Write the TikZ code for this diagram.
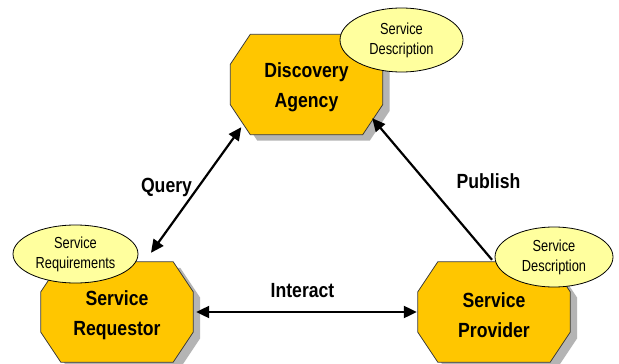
\documentclass[tikz,border=0pt]{standalone}
\usepackage{fontspec}
\setmainfont{Liberation Sans}
\newfontfamily\labfont[FakeStretch=0.86]{Liberation Sans Bold}
\newfontfamily\notefont[FakeStretch=0.8]{Liberation Sans}
\usetikzlibrary{arrows.meta,shapes.geometric,calc,backgrounds}

\definecolor{agentfill}{HTML}{FFC600}
\definecolor{agentline}{HTML}{3A3A3A}
\definecolor{notefill}{HTML}{FFFF9E}
\definecolor{shadowgray}{HTML}{B4B4B4}

\tikzset{
  agent/.style={draw=none, minimum width=152pt, minimum height=100pt,
    inner sep=0pt},
  agenttext/.style={inner sep=0pt, align=center, yshift=-3pt,
    font=\labfont\fontsize{20.5}{30}\selectfont},
  note/.style={ellipse, draw=black, line width=0.8pt, fill=notefill,
    inner sep=0pt, align=center,
    font=\notefont\fontsize{16}{20}\selectfont},
  edgelabel/.style={anchor=base, inner sep=0pt,
    font=\labfont\fontsize{20.5}{24}\selectfont},
  link/.style={line width=2.2pt, draw=black},
  tip/.style={-{Triangle[length=13pt,width=12pt]}},
  dbltip/.style={{Triangle[length=13pt,width=12pt]}-{Triangle[length=13pt,width=12pt]}},
}

% chamfered octagon around the box of node #1, offset by (#2,#3)
\newcommand\octagon[4]{%
  \path[#4]
    ($(#1.north west)+(20+#2,#3)$) -- ($(#1.north east)+(-20+#2,#3)$)
    -- ($(#1.north east)+(#2,30+#3)$) -- ($(#1.south east)+(#2,-30+#3)$)
    -- ($(#1.south east)+(-20+#2,#3)$) -- ($(#1.south west)+(20+#2,#3)$)
    -- ($(#1.south west)+(#2,-30+#3)$) -- ($(#1.north west)+(#2,30+#3)$)
    -- cycle;}

\begin{document}
\begin{tikzpicture}[x=1pt,y=-1pt]
  \useasboundingbox (0,0) rectangle (619,364);

  % the three roles
  \node[agent] (DA) at (306.5,84.5) {};
  \node[agent] (SR) at (117,312) {};
  \node[agent] (SP) at (494,312) {};
  \node[agenttext] (DAt) at (DA) {Discovery\\Agency};
  \node[agenttext] (SRt) at (SR) {Service\\Requestor};
  \node[agenttext] (SPt) at (SP) {Service\\Provider};

  \begin{pgfonlayer}{background}
    \fill[white] (0,0) rectangle (619,364);
    \foreach \n in {DA,SR,SP}{
      \octagon{\n}{7}{6}{fill=shadowgray}
      \octagon{\n}{0}{0}{fill=agentfill, draw=agentline, line width=0.8pt}
    }
  \end{pgfonlayer}

  % interactions
  \draw[link,dbltip] ($(DA.south west)+(11,-7.5)$) -- ($(SR.north)+(34,-9)$);
  \draw[link,tip] ($(SP.north)+(-2,-2)$) -- ($(DA.south east)+(-10.5,-16.5)$);
  \draw[link,dbltip] ($(SR.east)+(3,0)$) -- ($(SP.west)+(-1,0)$);

  \node[edgelabel] (lq) at (166.5,192) {Query};
  \node[edgelabel] (lp) at (488.5,188) {Publish};
  \node[edgelabel] (li) at (302.5,297) {Interact};

  % attached documents
  \node[note, minimum width=123pt, minimum height=64pt] (DAn) at (401.5,40) {Service\\Description};
  \node[note, minimum width=125pt, minimum height=58pt] (SRn) at (75.5,254) {Service\\Requirements};
  \node[note, minimum width=118pt, minimum height=60pt] (SPn) at (554,257) {Service\\Description};
\end{tikzpicture}
\end{document}
